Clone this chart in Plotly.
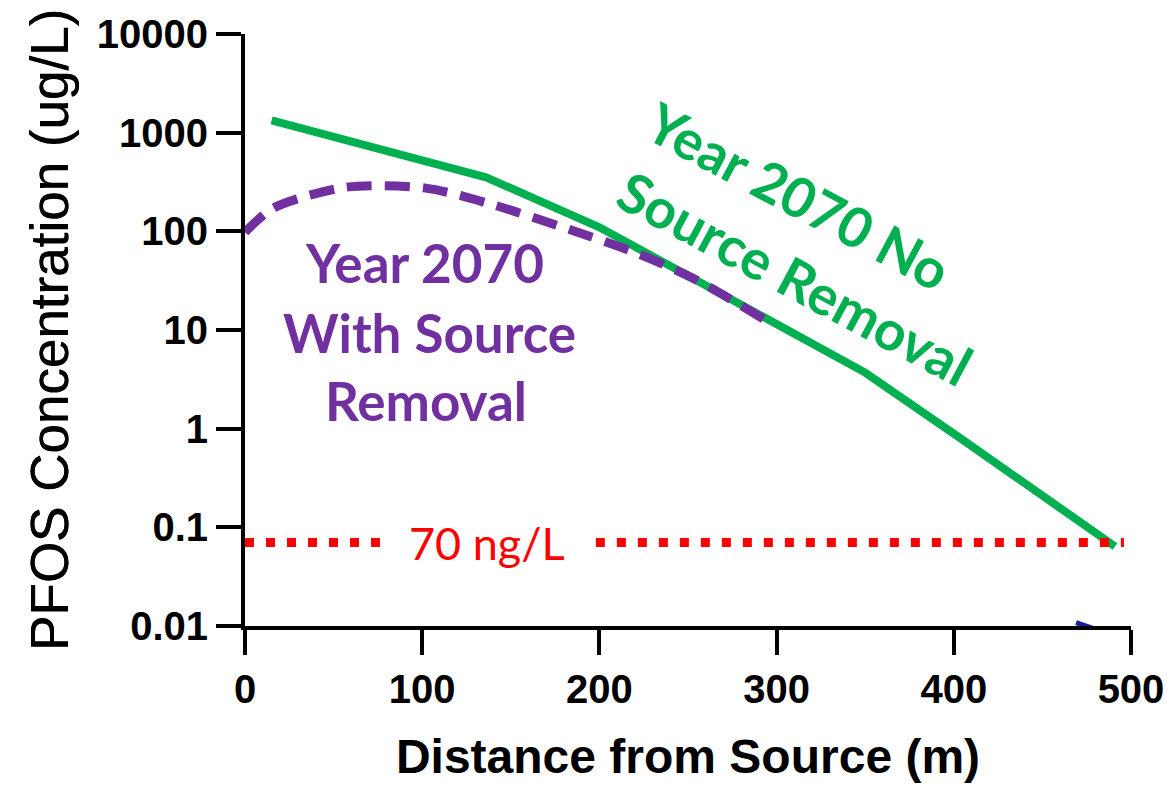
import plotly.graph_objects as go

# ---- data -------------------------------------------------------------
dist_no_removal = [15, 136, 200, 294, 350, 402, 491]
conc_no_removal = [1330, 353, 110, 12.8, 3.7, 0.84, 0.064]

dist_with_removal = [0, 16, 57, 102, 137, 184, 221, 255, 298]
conc_with_removal = [98, 172, 280, 274, 193, 103, 60, 32, 11.3]

# drinking-water guideline, 70 ng/L expressed in ug/L
guideline_ug_l = 70 / 1000
guideline_left = [0, 77]
guideline_right = [198, 496]

# short dark-blue stub sitting on the x axis
stub_dist = [469, 479]
stub_conc = [0.0108, 0.0094]

y_tick_vals = [0.01, 0.1, 1, 10, 100, 1000, 10000]
y_tick_text = ["0.01", "0.1", "1", "10", "100", "1000", "10000"]
x_tick_vals = [0, 100, 200, 300, 400, 500]

GREEN = "#00B050"
PURPLE = "#7030A0"
RED = "#FF0000"

# ---- layout geometry (pixels) -----------------------------------------
W, H = 1176, 787
L, R, T, B = 245, 38, 33, 159
PW, PH = W - L - R, H - T - B


def px(xp, yp):
    """Pixel position -> paper coordinates."""
    return (xp - L) / PW, (H - B - yp) / PH


fig = go.Figure()

fig.add_trace(go.Scatter(
    x=dist_no_removal, y=conc_no_removal, mode="lines",
    line=dict(color=GREEN, width=8), showlegend=False))

fig.add_trace(go.Scatter(
    x=dist_with_removal, y=conc_with_removal, mode="lines",
    line=dict(color=PURPLE, width=9, dash="25px,13px", shape="spline",
              smoothing=0.8),
    showlegend=False))

for seg in (guideline_left, guideline_right):
    fig.add_trace(go.Scatter(
        x=seg, y=[guideline_ug_l] * len(seg), mode="lines",
        line=dict(color=RED, width=9, dash="9px,12px"), showlegend=False))

fig.add_trace(go.Scatter(
    x=stub_dist, y=stub_conc, mode="lines", cliponaxis=False,
    line=dict(color="#1c1ca0", width=5), showlegend=False))

# ---- text labels ------------------------------------------------------
purple_lines = [("Year 2070", 426, 263), ("With Source", 431, 333),
                ("Removal", 427, 401)]
for txt, xp, yp in purple_lines:
    ax, ay = px(xp, yp)
    fig.add_annotation(x=ax, y=ay, xref="paper", yref="paper", text=txt,
                       showarrow=False, xanchor="center", yanchor="middle",
                       font=dict(family="Lato", size=53, color=PURPLE,
                                 weight="bold"))

green_lines = [("Year 2070 No", 803, 196), ("Source Removal", 800, 278)]
for txt, xp, yp in green_lines:
    ax, ay = px(xp, yp)
    fig.add_annotation(x=ax, y=ay, xref="paper", yref="paper", text=txt,
                       showarrow=False, xanchor="center", yanchor="middle",
                       textangle=28,
                       font=dict(family="Lato", size=55, color=GREEN,
                                 weight="bold"))

ax, ay = px(489, 545)
fig.add_annotation(x=ax, y=ay, xref="paper", yref="paper", text="70 ng/L",
                   showarrow=False, xanchor="center", yanchor="middle",
                   font=dict(family="Lato", size=45, color=RED))

# ---- axes -------------------------------------------------------------
fig.update_xaxes(
    range=[0, 500], tickvals=x_tick_vals, showgrid=False, zeroline=False,
    showline=True, linecolor="black", linewidth=4,
    ticks="outside", ticklen=25, tickwidth=4, tickcolor="black",
    tickfont=dict(family="Liberation Sans", size=40, color="black",
                  weight="bold"),
    title=dict(text="Distance from Source (m)", standoff=30,
               font=dict(family="Liberation Sans", size=48, color="black",
                         weight="bold")))

fig.update_yaxes(
    type="log", range=[-2, 4], tickvals=y_tick_vals, ticktext=y_tick_text,
    showgrid=False, zeroline=False,
    showline=True, linecolor="black", linewidth=4,
    ticks="outside", ticklen=25, tickwidth=4, tickcolor="black",
    tickfont=dict(family="Liberation Sans", size=40, color="black",
                  weight="bold"),
    title=dict(text="PFOS Concentration (ug/L)", standoff=12,
               font=dict(family="Liberation Sans", size=53, color="black",
                         shadow="0.6px 0px 0px black")))

fig.update_layout(
    width=W, height=H,
    margin=dict(l=L, r=R, t=T, b=B),
    paper_bgcolor="white", plot_bgcolor="white",
    showlegend=False)

fig.write_html("out.html")
